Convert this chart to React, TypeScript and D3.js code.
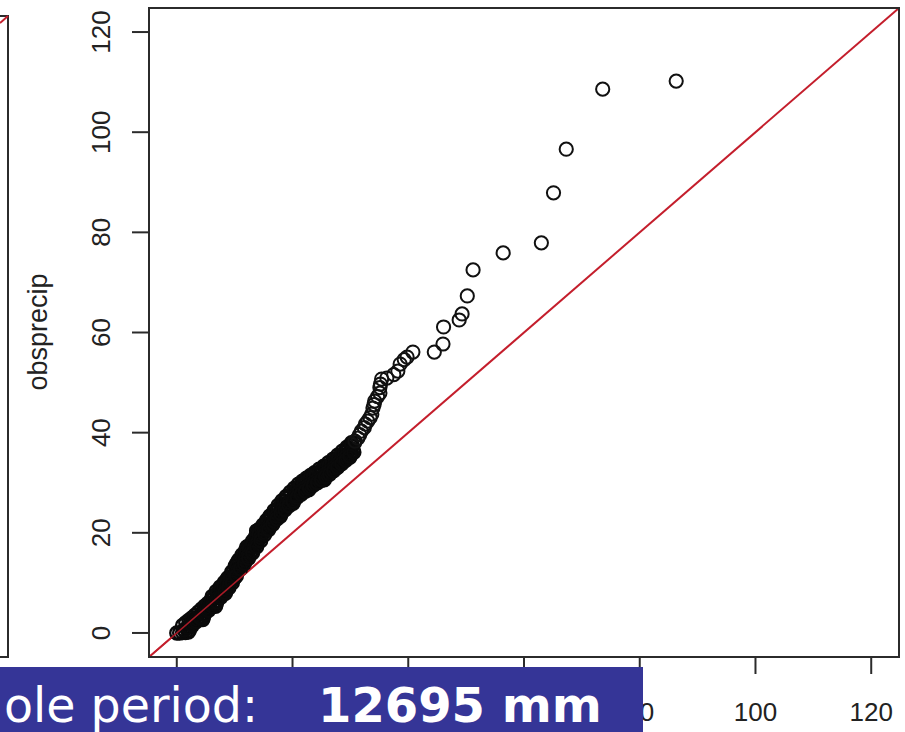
import React from "react";
import * as d3 from "d3";

// Model quantiles (x) and observed precipitation (obsprecip, y) – dense lower band
const bandModelQ = [
  0.0, 0.5, 1.0, 1.5, 2.0, 2.2, 2.3, 2.4, 2.5, 3.0, 3.5, 4.0, 4.5, 4.6, 4.7, 4.7, 4.8,
  5.2, 5.7, 6.2, 6.7, 6.8, 6.9, 6.9, 7.0, 7.4, 7.9, 8.4, 8.5, 8.6, 8.6, 8.7, 8.7,
  9.1, 9.6, 10.1, 10.2, 10.3, 10.3, 10.4, 10.4, 10.8, 11.3, 11.8, 11.9, 12.0, 12.0, 12.1, 12.1,
  12.5, 13.0, 13.5, 13.6, 13.7, 13.7, 13.8, 13.8, 14.2, 14.7, 15.2, 15.7, 15.8, 15.9, 15.9, 16.0,
  16.4, 16.9, 17.4, 17.9, 18.0, 18.1, 18.1, 18.2, 18.6, 19.1, 19.6, 20.1, 20.2, 20.3, 20.3, 20.4,
  20.8, 21.3, 21.8, 22.3, 22.8, 22.9, 23.0, 23.0, 23.5, 24.0, 24.5, 25.0, 25.5, 25.6, 25.7, 25.7, 25.8,
  26.2, 26.7, 27.2, 27.7, 27.8, 27.9, 27.9, 28.4, 28.9, 29.4, 29.9, 30.0, 30.1, 30.1, 30.2,
];
const bandObs = [
  0.0, 0.0, 0.1, 0.1, 0.2, 0.6, 1.2, 1.8, 2.4, 2.6, 2.6, 2.7, 2.7, 3.2, 3.8, 4.4, 5.0,
  5.2, 5.2, 5.3, 5.3, 5.8, 6.4, 7.0, 7.6, 7.8, 7.8, 7.9, 8.4, 9.0, 9.6, 10.2, 10.8,
  11.0, 11.0, 11.1, 11.6, 12.2, 12.8, 13.4, 14.0, 14.2, 14.2, 14.3, 14.8, 15.4, 16.0, 16.6, 17.2,
  17.4, 17.4, 17.5, 18.0, 18.6, 19.2, 19.8, 20.4, 20.6, 20.6, 20.7, 20.7, 21.2, 21.8, 22.4, 23.0,
  23.2, 23.2, 23.3, 23.3, 23.8, 24.4, 25.0, 25.6, 25.8, 25.8, 25.9, 25.9, 26.4, 27.0, 27.6, 28.2,
  28.4, 28.4, 28.5, 28.5, 28.6, 29.0, 29.6, 30.2, 30.4, 30.4, 30.5, 30.5, 30.6, 31.0, 31.6, 32.2, 32.8,
  33.0, 33.0, 33.1, 33.1, 33.6, 34.2, 34.8, 35.0, 35.0, 35.1, 35.1, 35.6, 36.2, 36.8, 37.4,
];
// Points along the upper-left edge of the dense band
const upperEdgeQ = [
  6.1, 6.8, 7.5, 8.2, 8.9, 9.5, 10.1, 10.7, 11.3, 11.9, 12.5, 13.1, 13.7,
  14.3, 14.9, 15.5, 16.1, 16.8, 17.5, 18.2, 18.9, 19.6, 20.3, 21.0, 21.7, 22.4, 23.1, 23.8,
  24.6, 25.4, 26.2, 27.0, 27.8, 28.6, 29.4, 30.2,
];
const upperEdgeObs = [
  7.3, 8.3, 9.2, 10.1, 11.1, 12.2, 13.4, 14.6, 15.65, 16.55, 17.45, 18.4, 19.4,
  20.7, 21.55, 22.45, 23.35, 24.4, 25.45, 26.4, 27.25, 28.1, 28.9, 29.7, 30.3, 30.9, 31.45, 32.0,
  32.7, 33.3, 34.0, 34.7, 35.5, 36.3, 37.1, 38.0,
];
// Points between the centre and the upper edge
const midUpperQ = [
  1.0, 1.55, 2.1, 2.65, 3.2, 3.75, 4.3, 4.85, 5.4, 5.95, 6.5, 7.05, 7.6, 8.15, 8.7, 9.25, 9.8,
  10.35, 10.9, 11.45, 12.0, 12.55, 13.1, 13.65, 14.2, 14.75, 15.3, 15.85, 16.4, 16.95, 17.5,
  18.05, 18.6, 19.15, 19.7, 20.25, 20.8, 21.35, 21.9, 22.45, 23.0, 23.55, 24.1, 24.65, 25.2,
  25.75, 26.3, 26.85, 27.4, 27.95, 28.5, 29.05, 29.6, 30.15, 30.7,
];
const midUpperObs = [
  1.5, 2.05, 2.55, 3.05, 3.6, 4.2, 4.8, 5.4, 5.95, 6.55, 7.25, 8.0, 8.75, 9.45, 10.2, 11.1, 12.2,
  13.3, 14.4, 15.3, 16.1, 16.9, 17.8, 18.75, 19.7, 20.65, 21.55, 22.4, 23.2, 24.0, 24.85,
  25.65, 26.3, 26.95, 27.6, 28.25, 28.85, 29.4, 29.85, 30.3, 30.75, 31.2, 31.7, 32.1, 32.55,
  33.0, 33.45, 33.95, 34.5, 35.05, 35.6, 36.15, 36.75, 37.35, 37.95,
];
// Points between the centre and the lower edge
const midLowerQ = [
  1.3, 1.85, 2.4, 2.95, 3.5, 4.05, 4.6, 5.15, 5.7, 6.25, 6.8, 7.35, 7.9, 8.45, 9.0, 9.55, 10.1,
  10.65, 11.2, 11.75, 12.3, 12.85, 13.4, 13.95, 14.5, 15.05, 15.6, 16.15, 16.7, 17.25, 17.8,
  18.35, 18.9, 19.45, 20.0, 20.55, 21.1, 21.65, 22.2, 22.75, 23.3, 23.85, 24.4, 24.95, 25.5,
  26.05, 26.6, 27.15, 27.7, 28.25, 28.8, 29.35, 29.9, 30.45,
];
const midLowerObs = [
  0.6, 1.15, 1.65, 2.15, 2.75, 3.3, 3.9, 4.5, 5.1, 5.75, 6.45, 7.2, 7.95, 8.65, 9.4, 10.5, 11.6,
  12.7, 13.7, 14.5, 15.35, 16.2, 17.1, 18.05, 19.05, 20.0, 20.8, 21.6, 22.45, 23.3, 24.1,
  24.8, 25.45, 26.1, 26.75, 27.4, 28.0, 28.45, 28.9, 29.35, 29.8, 30.3, 30.7, 31.15, 31.6,
  32.05, 32.5, 33.05, 33.6, 34.15, 34.7, 35.3, 35.9, 36.5,
];
// Points along the lower-right edge of the dense band
const lowerEdgeQ = [
  2.7, 3.4, 4.1, 4.8, 5.5, 6.2, 6.9, 7.6, 8.3, 9.0,
  9.6, 10.3, 11.0, 11.7, 12.4, 13.1, 13.8, 14.5, 15.2, 15.9, 16.6, 17.3, 18.0, 18.7, 19.4,
  20.1, 20.8, 21.5, 22.2, 22.9, 23.6, 24.3, 25.0, 25.7, 26.4, 27.1, 27.8, 28.5, 29.2, 29.9, 30.6,
];
const lowerEdgeObs = [
  1.5, 2.3, 3.0, 3.8, 4.5, 5.3, 6.2, 7.1, 8.1, 9.0,
  10.0, 11.4, 12.8, 13.85, 14.9, 16.0, 17.2, 18.4, 19.65, 20.65, 21.7, 22.75, 23.8, 24.6, 25.4,
  26.25, 27.1, 27.7, 28.3, 28.9, 29.5, 30.0, 30.6, 31.2, 31.7, 32.4, 33.1, 33.8, 34.5, 35.3, 36.1,
];
// Sparse upper tail
const tailModelQ = [
  30.8, 31.3, 31.6, 31.9, 32.4, 32.6, 33.0, 33.4, 33.7, 33.9, 34.1, 34.2, 34.7, 35.1, 35.1, 35.2,
  35.4, 36.3, 37.5, 38.2, 38.6, 39.3, 39.8, 40.8, 44.5, 46.0, 46.1, 48.8, 49.3, 50.2, 51.2, 56.4,
  63.0, 65.1, 67.3, 73.6, 86.3,
];
const tailObs = [
  38.3, 38.9, 39.6, 40.3, 41.0, 41.7, 42.3, 43.0, 43.7, 44.9, 45.6, 46.3, 47.2, 47.9, 49.0, 49.7,
  50.7, 50.9, 51.6, 52.3, 53.7, 54.6, 55.1, 56.1, 56.1, 57.7, 61.1, 62.5, 63.7, 67.3, 72.5, 75.9,
  77.9, 87.9, 96.6, 108.6, 110.2,
];
const axisTicks = [0, 20, 40, 60, 80, 100, 120];
const visibleXLabels = [80, 100, 120];
const yLabel = "obsprecip";
const bannerLabel = "ole period:";
const bannerValue = "12695 mm";

const W = 905;
const H = 732;
const domain: [number, number] = [-4.8, 124.8];

export default function App() {
  const x = d3.scaleLinear().domain(domain).range([149, 899]);
  const y = d3.scaleLinear().domain(domain).range([657, 8]);
  const dense = [
    ...bandModelQ.map((v, i) => [v, bandObs[i]]),
    ...upperEdgeQ.map((v, i) => [v, upperEdgeObs[i]]),
    ...midUpperQ.map((v, i) => [v, midUpperObs[i]]),
    ...midLowerQ.map((v, i) => [v, midLowerObs[i]]),
    ...lowerEdgeQ.map((v, i) => [v, lowerEdgeObs[i]]),
  ];
  const tail = tailModelQ.map((v, i) => [v, tailObs[i]]);
  const tickFont = "'Liberation Sans', Arial, sans-serif";
  const axisColor = "#2b2b2b";
  return (
    <svg
      width={W}
      height={H}
      style={{ position: "absolute", left: 0, top: 0, background: "#fff" }}
    >
      <rect x={0} y={0} width={W} height={H} fill="#fff" />
      {/* partial neighbouring plot on the left */}
      <g stroke={axisColor} strokeWidth={2} fill="none">
        <path d="M0,16 L8,16 L8,657 L0,657" />
      </g>
      <line x1={0} y1={23} x2={8} y2={16} stroke="#c41e2c" strokeWidth={2} />

      {/* identity line */}
      <line
        x1={x(domain[0])}
        y1={y(domain[0])}
        x2={x(domain[1])}
        y2={y(domain[1])}
        stroke="#c41e2c"
        strokeWidth={2}
      />
      {/* points */}
      <g fill="none" stroke="#0a0a0a" strokeWidth={2.4}>
        {dense.map((p, i) => (
          <circle key={"d" + i} cx={x(p[0])} cy={y(p[1])} r={6.5} />
        ))}
      </g>
      {/* identity line shows through the dense lower band */}
      <line
        x1={x(domain[0])}
        y1={y(domain[0])}
        x2={x(12)}
        y2={y(12)}
        stroke="#c41e2c"
        strokeWidth={1.6}
        opacity={0.85}
      />
      <g fill="none" stroke="#111" strokeWidth={2}>
        {tail.map((p, i) => (
          <circle key={"t" + i} cx={x(p[0])} cy={y(p[1])} r={6.6} />
        ))}
      </g>
      {/* frame */}
      <rect
        x={149}
        y={8}
        width={750}
        height={649}
        fill="none"
        stroke={axisColor}
        strokeWidth={2}
      />
      {/* y axis */}
      <g>
        {axisTicks.map((t) => (
          <g key={"y" + t}>
            <line x1={132} x2={149} y1={y(t)} y2={y(t)} stroke={axisColor} strokeWidth={2} />
            <text
              transform={`translate(${110},${y(t)}) rotate(-90)`}
              textAnchor="middle"
              fontFamily={tickFont}
              fontSize={26}
              fill="#222"
            >
              {t}
            </text>
          </g>
        ))}
        <text
          transform={`translate(${47},${332}) rotate(-90)`}
          textAnchor="middle"
          fontFamily={tickFont}
          fontSize={27}
          fill="#222"
        >
          {yLabel}
        </text>
      </g>
      {/* x axis */}
      <g>
        {axisTicks.map((t) => (
          <line
            key={"xt" + t}
            x1={x(t)}
            x2={x(t)}
            y1={657}
            y2={674}
            stroke={axisColor}
            strokeWidth={2}
          />
        ))}
        {visibleXLabels.map((t) => (
          <text
            key={"xl" + t}
            x={x(t)}
            y={721}
            textAnchor="middle"
            fontFamily={tickFont}
            fontSize={26}
            fill="#222"
          >
            {t}
          </text>
        ))}
      </g>
      {/* banner */}
      <rect x={0} y={667} width={643} height={H - 667} fill="#353597" />
      <text
        x={4}
        y={722}
        fontFamily="'DejaVu Sans', Verdana, sans-serif"
        fontSize={47.5}
        fill="#fff"
      >
        {bannerLabel}
      </text>
      <text
        x={318}
        y={722}
        fontFamily="'DejaVu Sans', Verdana, sans-serif"
        fontWeight="bold"
        fontSize={48}
        fill="#fff"
      >
        {bannerValue}
      </text>
    </svg>
  );
}
